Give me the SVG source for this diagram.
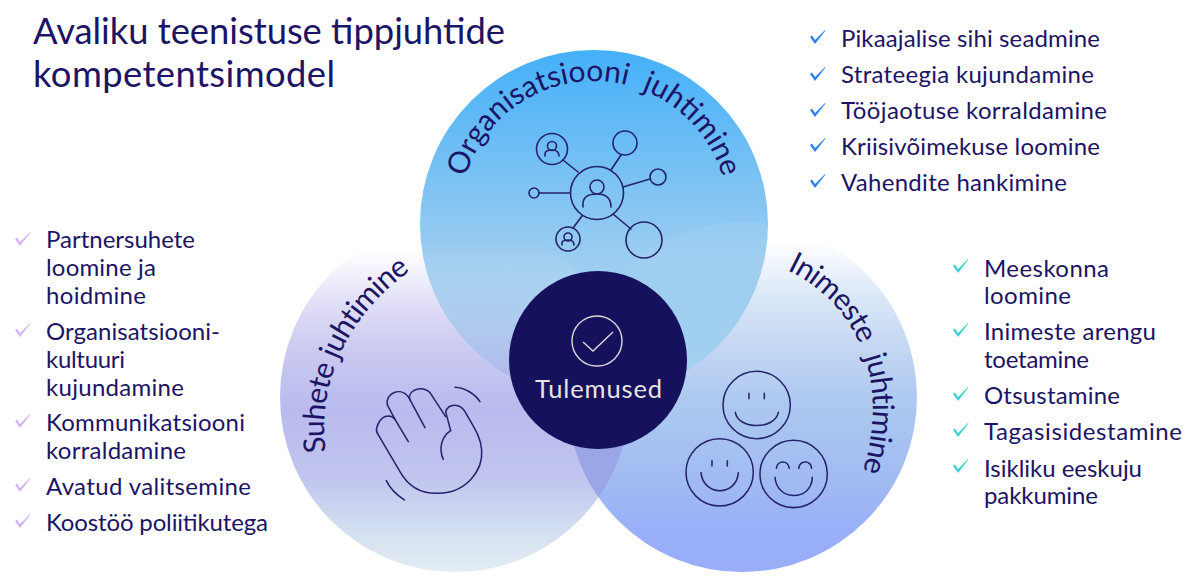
<svg xmlns="http://www.w3.org/2000/svg" width="1200" height="583" viewBox="0 0 1200 583">
<style>
text{font-family:"Lato","Open Sans","Liberation Sans",sans-serif;fill:#1c1464}
.t{font-size:36.400px}
.l{font-size:24px}
.c{font-size:30px}
.n{letter-spacing:-.8px}
.ic{fill:none;stroke:#25226b;stroke-width:1.600;stroke-linecap:round}
.z{fill:none;stroke:#25226b;stroke-width:4.600;stroke-linecap:round;stroke-linejoin:round}
</style>
<defs>
<linearGradient id="gt" x1="0" y1="0" x2="0" y2="1"><stop offset="0" stop-color="#44b0f9"/><stop offset=".6" stop-color="#9ccdf0"/><stop offset="1" stop-color="#a6d1ef"/></linearGradient>
<linearGradient id="gl" gradientUnits="userSpaceOnUse" x1="0" y1="250" x2="0" y2="572"><stop offset="0" stop-color="#fff"/><stop offset=".18" stop-color="#dedcf6"/><stop offset=".33" stop-color="#c8c8f0"/><stop offset=".49" stop-color="#b9bbee"/><stop offset=".7" stop-color="#c0c4ee"/><stop offset=".85" stop-color="#d0dcf0"/><stop offset="1" stop-color="#e4edf3"/></linearGradient>
<linearGradient id="gr" gradientUnits="userSpaceOnUse" x1="0" y1="240" x2="0" y2="572"><stop offset="0" stop-color="#fff"/><stop offset=".18" stop-color="#d8e6f7"/><stop offset=".35" stop-color="#c0d4f2"/><stop offset=".5" stop-color="#abc8f0"/><stop offset=".74" stop-color="#a0baf2"/><stop offset=".88" stop-color="#98aff9"/><stop offset="1" stop-color="#9aadf7"/></linearGradient>
<linearGradient id="go" gradientUnits="userSpaceOnUse" x1="0" y1="230" x2="0" y2="375"><stop offset="0" stop-color="#b4b8ec" stop-opacity="0"/><stop offset=".25" stop-color="#c0d8f0" stop-opacity=".25"/><stop offset="1" stop-color="#b0b9ec"/></linearGradient>
<linearGradient id="gw" gradientUnits="userSpaceOnUse" x1="0" y1="222" x2="0" y2="300"><stop offset="0" stop-color="#fff" stop-opacity=".07"/><stop offset="1" stop-color="#fff" stop-opacity="0"/></linearGradient>
<clipPath id="cl"><circle cx="455" cy="397" r="175"/></clipPath>
<clipPath id="ct"><circle cx="594" cy="224" r="174"/></clipPath>
<path id="ck" d="M0 0L2 -1.500L5 3L15 -7L15.500 -6.500L5 7Z"/>
<path id="pt" d="M460 215A134 134 0 0 1 728 215"/>
<path id="pl" d="M326 452C316 380 350 305 430 258"/>
<path id="pr" d="M787 270C850 300 900 375 856 492"/>
</defs>

<text class="t" x="33" y="44" textLength="472">Avaliku teenistuse tippjuhtide</text>
<text class="t" x="33" y="87" textLength="302">kompetentsimodel</text>

<g id="node-suhete">
<circle cx="455" cy="397" r="175" fill="url(#gl)"/>
</g>
<g id="node-inimeste">
<circle cx="742" cy="397" r="175" fill="url(#gr)"/>
<circle cx="742" cy="397" r="175" fill="#9aa6e6" clip-path="url(#cl)"/>
</g>
<g id="node-organisatsioon">
<circle cx="594" cy="224" r="174" fill="url(#gt)"/>
<g clip-path="url(#ct)"><circle cx="455" cy="397" r="175" fill="url(#go)"/><circle cx="742" cy="397" r="175" fill="url(#gw)"/></g>
<text class="c"><textPath href="#pt" startOffset="50%" text-anchor="middle" xml:space="preserve">Organisatsiooni  juhtimine</textPath></text>
<g class="ic">
<circle cx="597" cy="193" r="26.500"/><circle cx="552" cy="149" r="15.500"/><circle cx="625" cy="143" r="12"/><circle cx="658" cy="177" r="8"/><circle cx="534" cy="193" r="5"/><circle cx="568" cy="239" r="12"/><circle cx="644" cy="240" r="18"/>
<path d="M563 160L578 172M611 170L621 155M623 187L650 179M539 193L570 193M582 216L573 228M613 214L631 229"/>
<circle cx="597" cy="187" r="7"/><path d="M583 207V204Q583 194 597 194Q611 194 611 207"/>
<circle cx="552" cy="146" r="4.500"/><path d="M545 156V154Q545 150 552 150Q559 150 559 156"/>
<circle cx="568" cy="237" r="4"/><path d="M562 245V243Q562 240 568 240Q574 240 574 245"/>
</g>
</g>
<text class="c n"><textPath href="#pl" xml:space="preserve">Suhete juhtimine</textPath></text>
<text class="c n"><textPath href="#pr" xml:space="preserve">Inimeste  juhtimine</textPath></text>

<g id="icon-hand" class="z" transform="translate(280 240) scale(.3333)">
<path d="M385 605L345 538C330 520 300 525 290 565C288 572 290 578 295 585L360 695C385 740 425 762 475 760C560 758 610 690 605 630C603 590 580 560 555 515C540 488 505 490 497 515L512 572"/>
<path d="M345 538L322 495C315 460 360 440 385 470L435 563"/>
<path d="M390 480C380 450 425 435 450 458L497 530"/>
<path d="M512 572C485 590 475 625 490 658"/>
<path d="M525 442C555 443 585 462 600 485M319 722C330 745 350 765 373 780"/>
</g>
<g id="icon-smileys" class="z" transform="translate(600 240) scale(.3333)">
<circle cx="470" cy="495" r="101"/><circle cx="359" cy="697" r="101"/><circle cx="581" cy="702" r="101"/>
<path d="M447 460V476M493 460V476M406 517C415 570 525 570 535 517M336 662V678M382 662V678M303 698C310 770 410 770 415 698M525 712C530 785 635 785 637 712M529 685C532 660 565 660 568 685M596 685C600 660 632 660 635 685"/>
</g>

<g id="node-tulemused">
<circle cx="598" cy="360" r="89" fill="#16115c"/>
<circle cx="597" cy="341" r="25" fill="none" stroke="#dcd8d8" stroke-width="1.400"/>
<path d="M583 342L593 351L613 332" fill="none" stroke="#dcd8d8" stroke-width="1.400"/>
<text x="535" y="398" textLength="127" style="fill:#e8e4e2;font-size:25.500px">Tulemused</text>
</g>

<g id="list-top">
<g fill="#2b80f0"><use href="#ck" x="810" y="37"/><use href="#ck" x="810" y="74"/><use href="#ck" x="810" y="110"/><use href="#ck" x="810" y="145"/><use href="#ck" x="810" y="181"/></g>
<g class="l"><text x="841" y="47" textLength="259">Pikaajalise sihi seadmine</text><text x="841" y="83" textLength="253">Strateegia kujundamine</text><text x="841" y="119" textLength="266">Tööjaotuse korraldamine</text><text x="841" y="155" textLength="259">Kriisivõimekuse loomine</text><text x="841" y="191" textLength="226">Vahendite hankimine</text></g>
</g>
<g id="list-right">
<g fill="#3dd3cf"><use href="#ck" x="953" y="266"/><use href="#ck" x="953" y="330"/><use href="#ck" x="953" y="394"/><use href="#ck" x="953" y="430"/><use href="#ck" x="953" y="466"/></g>
<g class="l"><text x="984" y="277" textLength="125">Meeskonna</text><text x="984" y="304" textLength="87">loomine</text><text x="984" y="340" textLength="172">Inimeste arengu</text><text x="984" y="368" textLength="105">toetamine</text><text x="984" y="404" textLength="136">Otsustamine</text><text x="984" y="440" textLength="198">Tagasisidestamine</text><text x="984" y="477" textLength="158">Isikliku eeskuju</text><text x="984" y="504" textLength="114">pakkumine</text></g>
</g>
<g id="list-left">
<g fill="#d3b3f5"><use href="#ck" x="15" y="239"/><use href="#ck" x="15" y="330"/><use href="#ck" x="15" y="421"/><use href="#ck" x="15" y="485"/><use href="#ck" x="15" y="521"/></g>
<g class="l"><text x="46" y="248" textLength="149">Partnersuhete</text><text x="46" y="276" textLength="110">loomine ja</text><text x="46" y="304" textLength="100">hoidmine</text><text x="46" y="340" textLength="174">Organisatsiooni-</text><text x="46" y="368" textLength="79">kultuuri</text><text x="46" y="396" textLength="138">kujundamine</text><text x="46" y="431" textLength="199">Kommunikatsiooni</text><text x="46" y="459" textLength="140">korraldamine</text><text x="46" y="495" textLength="205">Avatud valitsemine</text><text x="46" y="531" textLength="222">Koostöö poliitikutega</text></g>
</g>
</svg>
